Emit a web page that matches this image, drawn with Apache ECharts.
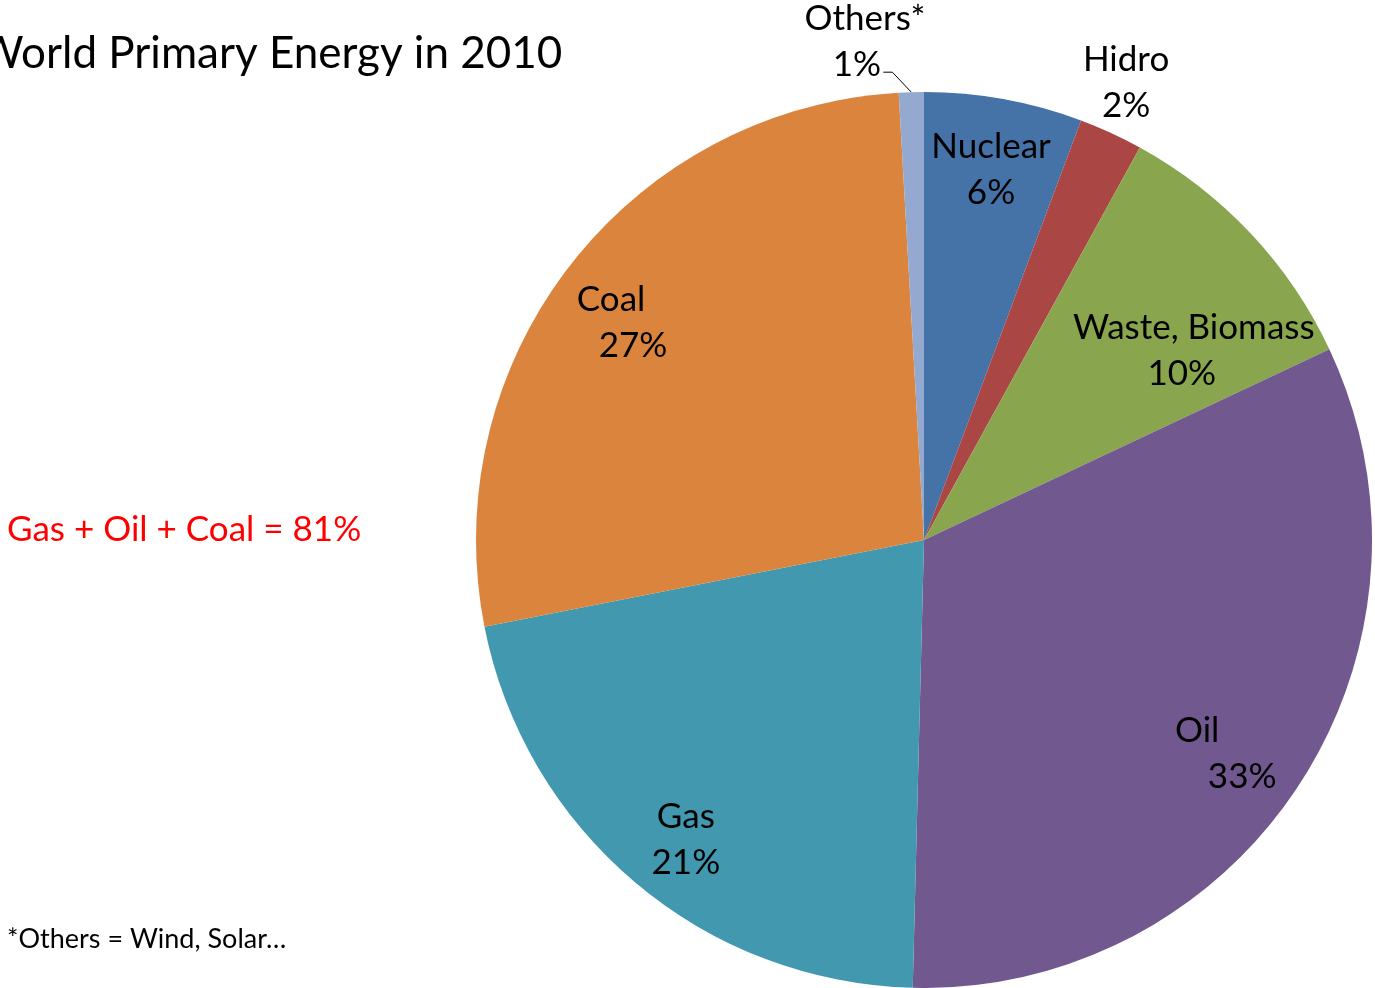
<!DOCTYPE html>
<html>
<head>
<meta charset="utf-8">
<title>World Primary Energy in 2010</title>
<script src="https://cdn.jsdelivr.net/npm/echarts@6/dist/echarts.min.js"></script>
<style>
  html, body { margin: 0; padding: 0; background: #fff; }
  #chart { width: 1375px; height: 988px; }
</style>
</head>
<body>
<div id="chart"></div>
<script>
// data (slice sizes) and the printed percentages
var categories = ['Nuclear', 'Hidro', 'Waste, Biomass', 'Oil', 'Gas', 'Coal', 'Others*'];
var shares = [5.7, 2.3, 10.0, 32.4, 21.5, 27.2, 0.9];
var percentLabels = ['6%', '2%', '10%', '33%', '21%', '27%', '1%'];
var colors = ['#4572A7', '#AA4643', '#89A54E', '#71588F', '#4198AF', '#DB843D', '#93A9CF'];

// pie geometry
var CX = 924, CY = 540, R = 448;
// where each label sits: fraction of radius, and shift (deg) from mid angle
var labelRadius = [0.84, 1.115, 0.725, 0.815, 0.855, 0.83, 1.12];
var labelShift = [0, -0.8, 7.5, 2.8, -1.7, -2.1, -5.6];
// horizontal gap between the two label lines (px), like the excel labels
var lineOffset = [0, 0, -12, 45, 0, 22, -8];

var FONT = 'Lato';
var total = shares.reduce(function(a, b) { return a + b; }, 0);

function midAngle(i) {
	var before = 0;
	for (var k = 0; k < i; k++) before += shares[k];
	return (before + shares[i] / 2) / total * 360;
}

function richFor(i) {
	var d = lineOffset[i];
	var base = { fontFamily: FONT, fontSize: 35, lineHeight: 46, color: '#000' };
	var n = Object.assign({}, base, { padding: d >= 0 ? [0, d, 0, 0] : [0, 0, 0, -d] });
	var p = Object.assign({}, base, { padding: d >= 0 ? [0, 0, 0, d] : [0, -d, 0, 0] });
	return { n: n, p: p };
}

var chart = echarts.init(document.getElementById('chart'));

var option = {
	animation: false,
	color: colors,
	graphic: [{
		type: 'text',
		left: -22, top: 32,
		style: { text: 'World Primary Energy in 2010', font: '44px Lato', fill: '#000' }
	}, {
		type: 'text',
		left: 7, top: 512,
		style: { text: 'Gas + Oil + Coal = 81%', font: '35px Lato', fill: '#ff0000' }
	}, {
		type: 'text',
		left: 7, top: 926,
		style: { text: '*Others = Wind, Solar\u2026', font: '27px Lato', fill: '#000' }
	}],
	series: [{
		type: 'pie',
		center: [CX, CY],
		radius: R,
		startAngle: 90,
		clockwise: true,
		avoidLabelOverlap: false,
		itemStyle: { borderWidth: 0 },
		label: {
			show: true,
			position: 'outside',
			fontFamily: FONT,
			fontSize: 35,
			lineHeight: 46,
			color: '#000',
			align: 'center',
			formatter: function(p) {
				return '{n|' + categories[p.dataIndex] + '}\n{p|' + percentLabels[p.dataIndex] + '}';
			}
		},
		labelLine: { show: false },
		labelLayout: function(p) {
			var i = p.dataIndex;
			var a = (midAngle(i) + labelShift[i]) * Math.PI / 180;
			var r = R * labelRadius[i];
			var x = CX + r * Math.sin(a);
			var y = CY - r * Math.cos(a);
			var out = { x: x, y: y, align: 'center', verticalAlign: 'middle' };
			if (categories[i] === 'Others*') {
				// leader line: slice edge -> elbow -> just right of the "1%"
				var m = midAngle(i) * Math.PI / 180;
				var ex = CX + R * Math.sin(m), ey = CY - R * Math.cos(m);
				out.labelLinePoints = [[ex, ey], [ex - 19, ey - 20], [ex - 28, ey - 20]];
			}
			return out;
		},
		data: categories.map(function(c, i) {
			var item = { name: c, value: shares[i], label: { rich: richFor(i) } };
			if (c === 'Others*') {
				item.labelLine = { show: true, lineStyle: { color: '#000', width: 1 } };
			}
			return item;
		})
	}]
};

chart.setOption(option);
</script>
</body>
</html>
